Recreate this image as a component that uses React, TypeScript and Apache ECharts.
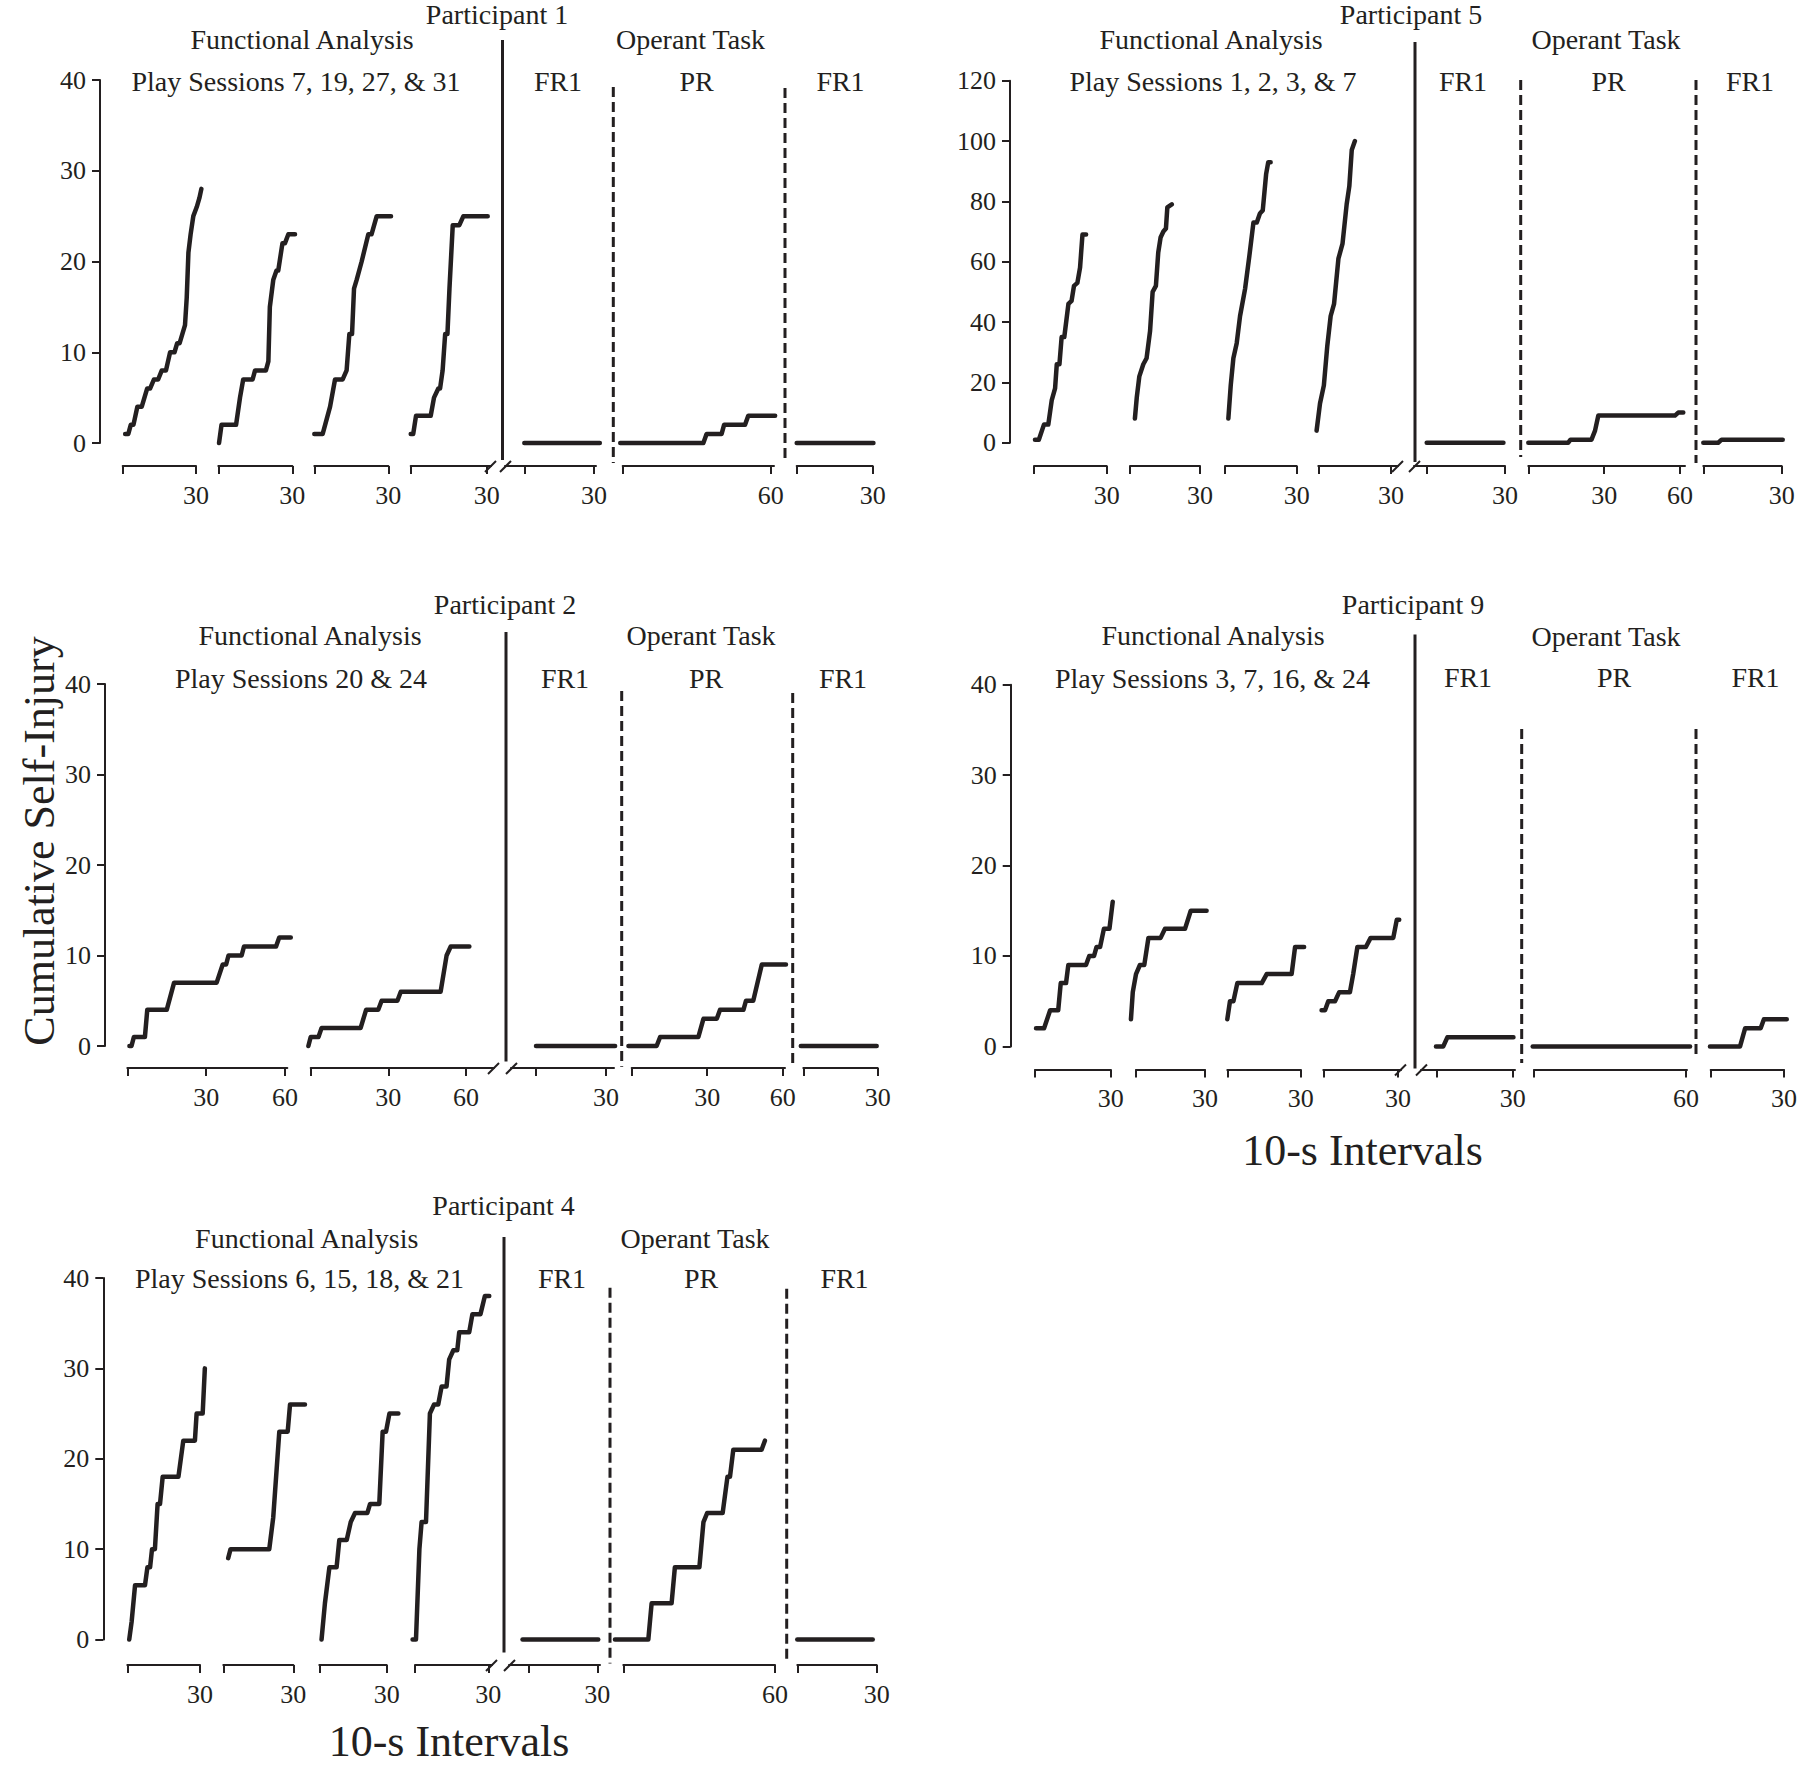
import React, { useEffect, useRef } from "react";
import * as echarts from "echarts";

// ---------------- DATA (10-s interval, cumulative self-injury) ----------------
// Participant 1
const p1Fa1 = [[1,1],[2.3,1],[3.3,2],[4.4,2],[6,4],[7.8,4],[10,6],[11.2,6],[12.8,7],[14.5,7],[16,8],[17.7,8],[19.4,10],[21.2,10],[22.3,11],[23.3,11],[25.5,13],[26.2,16],[26.9,21],[27.8,23],[28.9,25],[30.3,26],[31.4,27],[32.2,28]];
const p1Fa2 = [[0.3,0],[1.3,2],[7.2,2],[8.8,5],[10.1,7],[13.9,7],[14.9,8],[19.3,8],[20.3,9],[20.9,15],[22.3,18],[23.6,19],[24.3,19],[26,22],[27,22],[28.4,23],[31.1,23]];
const p1Fa3 = [[0,1],[3.4,1],[6.4,4],[8.4,7],[11.5,7],[13.1,8],[14.2,12],[15.3,12],[16.1,17],[17.2,18],[19.2,20],[21.9,23],[23.2,23],[25.3,25],[31.1,25]];
const p1Fa4 = [[0,1],[1,1],[2.1,3],[7.9,3],[9.2,5],[10.9,6],[11.6,6],[12.6,8],[13.6,12],[14.5,12],[15.3,17],[16.6,24],[19.2,24],[20.8,25],[30.4,25]];
const p1Fr1a = [[0,0],[32.5,0]];
const p1Pr = [[-1,0],[32.7,0],[34,1],[40.1,1],[41.1,2],[49.6,2],[50.9,3],[61.8,3]];
const p1Fr1b = [[0,0],[30.3,0]];

// Participant 5
const p5Fa1 = [[0.4,1],[2,1],[4.1,6],[5.9,6],[7.3,14],[8.7,18],[9.4,26],[10.5,26],[11.4,35],[12.5,35],[14.2,46],[15.5,47],[16.5,52],[17.9,53],[19,58],[20,69],[21.5,69]];
const p5Fa2 = [[2.1,8],[2.9,15],[4,22],[5.7,26],[7.1,28],[8.6,37],[9.7,50],[11.1,52],[12.1,63],[13.1,68],[14.3,70],[15.4,71],[16,78],[17.9,79]];
const p5Fa3 = [[1.4,8],[2.4,19],[3.5,28],[4.9,33],[6.3,42],[8.4,51],[10.2,62],[11.9,73],[13.3,73],[14.6,76],[15.8,77],[17.2,89],[18.1,93],[19.1,93]];
const p5Fa4 = [[-0.7,4],[0.7,13],[2.3,19],[3.7,32],[5.1,42],[6.5,46],[8.3,61],[10,66],[11.7,79],[12.8,85],[13.8,97],[15.1,100]];
const p5Fr1a = [[0,0],[29.4,0]];
const p5Pr = [[0,0],[15.8,0],[16.7,1],[25,1],[26.4,4],[27.7,9],[58,9],[59.3,10],[61.3,10]];
const p5Fr1b = [[0,0],[5.7,0],[7,1],[30.4,1]];

// Participant 2
const p2Fa1 = [[0.8,0],[1.6,0],[2.5,1],[6.7,1],[7.6,4],[15,4],[17.8,7],[34,7],[36.3,9],[37.6,9],[38.5,10],[43.5,10],[44.4,11],[56.6,11],[57.8,12],[62.2,12]];
const p2Fa2 = [[-0.9,0],[0,1],[3,1],[4.2,2],[19.3,2],[21.4,4],[26.1,4],[27.4,5],[33.5,5],[34.8,6],[50.2,6],[52.5,10],[54.1,11],[61.3,11]];
const p2Fr1a = [[0,0],[33.9,0]];
const p2Pr = [[-1.3,0],[9.9,0],[11.3,1],[26.5,1],[28.5,3],[33.8,3],[35.1,4],[44.4,4],[45.4,5],[48.3,5],[51.7,9],[61.3,9]];
const p2Fr1b = [[-1,0],[29.6,0]];

// Participant 9
const p9Fa1 = [[0.4,2],[3.6,2],[6,4],[9.2,4],[10.2,7],[12.3,7],[13.2,9],[20.2,9],[21.5,10],[23.4,10],[24.4,11],[25.8,11],[27.3,13],[29.5,13],[30.8,16]];
const p9Fa2 = [[-2.2,3],[-1.4,6],[0,8],[1.7,9],[3.6,9],[5.4,12],[10.7,12],[12.6,13],[21.3,13],[23.8,15],[30.7,15]];
const p9Fa3 = [[0,3],[1.1,5],[2.5,5],[4.1,7],[14.1,7],[16.1,8],[26.3,8],[27.7,11],[31.4,11]];
const p9Fa4 = [[-0.7,4],[0.7,4],[2,5],[4.7,5],[6.4,6],[10.7,6],[12,8],[13.7,11],[17.1,11],[19,12],[28.1,12],[29.5,14],[30.5,14]];
const p9Fr1a = [[-0.3,0],[2.6,0],[4.2,1],[30.3,1]];
const p9Pr = [[-0.5,0],[61.6,0]];
const p9Fr1b = [[-0.3,0],[11.7,0],[13.7,2],[19.9,2],[21.2,3],[30.3,3]];

// Participant 4
const p4Fa1 = [[0.8,0],[1.8,2],[3.2,6],[7.3,6],[8.3,8],[9.4,8],[10.2,10],[11.4,10],[12.5,15],[13.5,15],[14.6,18],[21.1,18],[23.1,22],[27.9,22],[28.6,25],[31.1,25],[32,30]];
const p4Fa2 = [[2.1,9],[3.1,10],[19.7,10],[21.4,13.5],[24,23],[27.6,23],[28.6,26],[35,26]];
const p4Fa3 = [[1,0],[2.5,4],[4.5,8],[7.7,8],[8.9,11],[12.2,11],[14,13],[15.9,14],[21.4,14],[22.6,15],[26.7,15],[28.2,23],[29.7,23],[31.2,25],[35.2,25]];
const p4Fa4 = [[-1,0],[0.4,0],[1.8,10],[2.7,13],[4.5,13],[6.1,25],[7.8,26],[9.5,26],[10.9,28],[12.9,28],[14,31],[15.7,32],[17.3,32],[18.1,34],[22.2,34],[23.5,36],[26.8,36],[28.6,38],[30.4,38]];
const p4Fr1a = [[-2.5,0],[30.4,0]];
const p4Pr = [[-3.3,0],[9.9,0],[11.2,4],[19.1,4],[20.4,8],[30.1,8],[31.7,13],[33.2,14],[39.3,14],[41.2,18],[42.2,18],[43.5,21],[54.7,21],[56,22]];
const p4Fr1b = [[0,0],[28.5,0]];

// Tick labels
const ticks30 = [0, 30];
const labels30 = [30];
const ticks60 = [0, 60];
const labels60 = [60];
const ticks3060 = [0, 30, 60];
const labels3060 = [30, 60];

// Titles
const yTitle = "Cumulative Self-Injury";
const xTitle = "10-s Intervals";
const faTitle = "Functional Analysis";
const opTitle = "Operant Task";
const phaseNames = ["FR1", "PR", "FR1"];

// ---------------- LAYOUT ----------------
const INK = "#231f20";
const SERIF = "'Liberation Serif', 'Times New Roman', serif";
const TITLE_SIZE = 28;
const TICK_SIZE = 26;
const BIG_SIZE = 44;

type G = { t0: number; t1: number; v1: number; ls?: number; le?: number; ticks: number[]; labels: number[]; data: number[][]; brk?: "end" | "start" };
type P = {
  name: string; play: string;
  yAxisX: number; yTop: number; yBottom: number; yMax: number; yInt: number; xAxisY: number;
  titleXY: number[]; faXY: number[]; playXY: number[]; opXY: number[]; phaseX: number[]; phaseY: number;
  solid: number[]; dashed: number[][]; grids: G[];
};

const panels: P[] = [
  {
    name: "Participant 1", play: "Play Sessions 7, 19, 27, & 31",
    yAxisX: 100, yTop: 80, yBottom: 443, yMax: 40, yInt: 10, xAxisY: 466,
    titleXY: [497, 14.5], faXY: [302, 39], playXY: [296, 81], opXY: [690.5, 39], phaseX: [558, 696.5, 840.5], phaseY: 81,
    solid: [502.5, 40, 460], dashed: [[613.3, 87, 463], [785, 88, 463]],
    grids: [
      { t0: 122.7, t1: 196, v1: 30, ticks: ticks30, labels: labels30, data: p1Fa1 },
      { t0: 218.3, t1: 292.3, v1: 30, ticks: ticks30, labels: labels30, data: p1Fa2 },
      { t0: 314.3, t1: 388.3, v1: 30, ticks: ticks30, labels: labels30, data: p1Fa3 },
      { t0: 410.7, t1: 486.7, v1: 30, le: 491, ticks: ticks30, labels: labels30, data: p1Fa4, brk: "end" },
      { t0: 524.3, t1: 594, v1: 30, ls: 505, le: 596, ticks: ticks30, labels: labels30, data: p1Fr1a, brk: "start" },
      { t0: 622.7, t1: 770.7, v1: 60, le: 774, ticks: ticks60, labels: labels60, data: p1Pr },
      { t0: 796.7, t1: 872.7, v1: 30, ticks: ticks30, labels: labels30, data: p1Fr1b },
    ],
  },
  {
    name: "Participant 5", play: "Play Sessions 1, 2, 3, & 7",
    yAxisX: 1010, yTop: 80.7, yBottom: 442.7, yMax: 120, yInt: 20, xAxisY: 466,
    titleXY: [1411, 14.5], faXY: [1211, 39], playXY: [1213, 81], opXY: [1606, 39], phaseX: [1463, 1608.5, 1750], phaseY: 81,
    solid: [1415, 42, 462], dashed: [[1520.7, 80, 457], [1696, 80, 463]],
    grids: [
      { t0: 1034, t1: 1106.7, v1: 30, ticks: ticks30, labels: labels30, data: p5Fa1 },
      { t0: 1130, t1: 1200, v1: 30, ticks: ticks30, labels: labels30, data: p5Fa2 },
      { t0: 1225, t1: 1296.7, v1: 30, ticks: ticks30, labels: labels30, data: p5Fa3 },
      { t0: 1318.3, t1: 1391, v1: 30, le: 1398, ticks: ticks30, labels: labels30, data: p5Fa4, brk: "end" },
      { t0: 1426.7, t1: 1505, v1: 30, ls: 1414, ticks: ticks30, labels: labels30, data: p5Fr1a, brk: "start" },
      { t0: 1528.3, t1: 1680, v1: 60, le: 1685, ticks: ticks3060, labels: labels3060, data: p5Pr },
      { t0: 1703.3, t1: 1781.7, v1: 30, ticks: ticks30, labels: labels30, data: p5Fr1b },
    ],
  },
  {
    name: "Participant 2", play: "Play Sessions 20 & 24",
    yAxisX: 105, yTop: 684, yBottom: 1046, yMax: 40, yInt: 10, xAxisY: 1068,
    titleXY: [505, 604], faXY: [310, 635.6], playXY: [301, 678.6], opXY: [701, 635.6], phaseX: [565, 706, 843], phaseY: 678.6,
    solid: [506, 632, 1061.6], dashed: [[621.7, 691, 1066.7], [792.7, 693, 1068]],
    grids: [
      { t0: 127.3, t1: 285, v1: 60, le: 287.3, ticks: ticks3060, labels: labels3060, data: p2Fa1 },
      { t0: 310.7, t1: 466, v1: 60, le: 494, ticks: ticks3060, labels: labels3060, data: p2Fa2, brk: "end" },
      { t0: 536, t1: 606, v1: 30, ls: 511, le: 614, ticks: ticks30, labels: labels30, data: p2Fr1a, brk: "start" },
      { t0: 631.7, t1: 782.7, v1: 60, le: 785, ticks: ticks3060, labels: labels3060, data: p2Pr },
      { t0: 803.3, t1: 877.7, v1: 30, ticks: ticks30, labels: labels30, data: p2Fr1b },
    ],
  },
  {
    name: "Participant 9", play: "Play Sessions 3, 7, 16, & 24",
    yAxisX: 1010.7, yTop: 684.7, yBottom: 1046.4, yMax: 40, yInt: 10, xAxisY: 1069.5,
    titleXY: [1413, 604], faXY: [1213, 635.6], playXY: [1212.5, 678.6], opXY: [1606, 636.4], phaseX: [1468, 1614, 1755.5], phaseY: 677.5,
    solid: [1415, 634.6, 1068.6], dashed: [[1521.7, 729, 1063], [1696, 729, 1056]],
    grids: [
      { t0: 1035, t1: 1110.7, v1: 30, ticks: ticks30, labels: labels30, data: p9Fa1 },
      { t0: 1136, t1: 1205, v1: 30, ticks: ticks30, labels: labels30, data: p9Fa2 },
      { t0: 1227.3, t1: 1300.7, v1: 30, ticks: ticks30, labels: labels30, data: p9Fa3 },
      { t0: 1323.3, t1: 1398, v1: 30, le: 1401, ticks: ticks30, labels: labels30, data: p9Fa4, brk: "end" },
      { t0: 1436.7, t1: 1512.7, v1: 30, ls: 1421, le: 1515, ticks: ticks30, labels: labels30, data: p9Fr1a, brk: "start" },
      { t0: 1534, t1: 1686, v1: 60, le: 1687, ticks: ticks60, labels: labels60, data: p9Pr },
      { t0: 1710.7, t1: 1786, v1: 30, ticks: ticks30, labels: labels30, data: p9Fr1b },
    ],
  },
  {
    name: "Participant 4", play: "Play Sessions 6, 15, 18, & 21",
    yAxisX: 103.3, yTop: 1278, yBottom: 1639.5, yMax: 40, yInt: 10, xAxisY: 1665,
    titleXY: [503.5, 1205], faXY: [306.7, 1238], playXY: [299.5, 1278], opXY: [695, 1238], phaseX: [562, 701, 844.5], phaseY: 1278,
    solid: [504, 1237, 1652.6], dashed: [[610, 1287.7, 1663.6], [786.7, 1288.8, 1663.6]],
    grids: [
      { t0: 127.3, t1: 200, v1: 30, ticks: ticks30, labels: labels30, data: p4Fa1 },
      { t0: 223.3, t1: 293.3, v1: 30, ticks: ticks30, labels: labels30, data: p4Fa2 },
      { t0: 319.3, t1: 386.7, v1: 30, ticks: ticks30, labels: labels30, data: p4Fa3 },
      { t0: 415, t1: 488.3, v1: 30, le: 492, ticks: ticks30, labels: labels30, data: p4Fa4, brk: "end" },
      { t0: 528.3, t1: 597.3, v1: 30, ls: 509, le: 600, ticks: ticks30, labels: labels30, data: p4Fr1a, brk: "start" },
      { t0: 623.3, t1: 775, v1: 60, ticks: ticks60, labels: labels60, data: p4Pr },
      { t0: 797.3, t1: 876.7, v1: 30, ticks: ticks30, labels: labels30, data: p4Fr1b },
    ],
  },
];

const bigLabels = [
  { text: xTitle, x: 1362.5, y: 1150, rot: 0 },
  { text: xTitle, x: 449, y: 1741, rot: 0 },
  { text: yTitle, x: 39, y: 841, rot: Math.PI / 2 },
];

function txt(text: string, x: number, y: number, size: number, rotation = 0) {
  return {
    type: "text",
    x, y, rotation,
    silent: true,
    style: {
      text, fill: INK, fontSize: size, fontFamily: SERIF,
      align: "center", verticalAlign: "middle",
      textAlign: "center", textVerticalAlign: "middle",
    },
  };
}
function seg(x1: number, y1: number, x2: number, y2: number, w: number, dash?: number[]) {
  return {
    type: "line", silent: true,
    shape: { x1, y1, x2, y2 },
    style: { stroke: INK, lineWidth: w, lineDash: dash },
  };
}

const axisLineStyle = { color: INK, width: 2 };

function buildOption() {
  const grid: any[] = [], xAxis: any[] = [], yAxis: any[] = [], series: any[] = [], graphic: any[] = [];
  panels.forEach((p) => {
    p.grids.forEach((g, i) => {
      const ls = g.ls ?? g.t0;
      const le = g.le ?? g.t1;
      const ppu = (g.t1 - g.t0) / g.v1;
      const aMin = g.ls === undefined ? 0 : (ls - g.t0) / ppu;
      const aMax = g.le === undefined ? g.v1 : (le - g.t0) / ppu;
      const h = p.yBottom - p.yTop;

      // axis-only grid
      const ai = grid.length;
      grid.push({ left: ls, top: p.yTop, width: le - ls, height: h, containLabel: false });
      xAxis.push({
        type: "value", gridIndex: ai, min: aMin, max: aMax,
        offset: p.xAxisY - p.yBottom,
        axisLine: { show: true, onZero: false, lineStyle: axisLineStyle },
        axisTick: { show: true, customValues: g.ticks, length: 8, inside: false, lineStyle: axisLineStyle },
        axisLabel: { show: true, customValues: g.labels, margin: 16, color: INK, fontSize: TICK_SIZE, fontFamily: SERIF, showMinLabel: true, showMaxLabel: true },
        splitLine: { show: false },
      });
      yAxis.push({
        type: "value", gridIndex: ai, min: 0, max: p.yMax, interval: p.yInt,
        show: i === 0,
        offset: i === 0 ? ls - p.yAxisX : 0,
        axisLine: { show: true, onZero: false, lineStyle: axisLineStyle },
        axisTick: { show: true, length: 8, lineStyle: axisLineStyle },
        axisLabel: { margin: 14, color: INK, fontSize: TICK_SIZE, fontFamily: SERIF },
        splitLine: { show: false },
      });

      // data grid, same scale, wide enough for every point
      const xs = g.data.map((d) => d[0]);
      const lo = Math.min(aMin, ...xs) - 2;
      const hi = Math.max(aMax, ...xs) + 2;
      const di = grid.length;
      grid.push({ left: g.t0 + lo * ppu, top: p.yTop, width: (hi - lo) * ppu, height: h, containLabel: false });
      xAxis.push({ type: "value", gridIndex: di, min: lo, max: hi, show: false, splitLine: { show: false } });
      yAxis.push({ type: "value", gridIndex: di, min: 0, max: p.yMax, show: false, splitLine: { show: false } });
      series.push({
        type: "line", xAxisIndex: di, yAxisIndex: di, data: g.data,
        showSymbol: false, symbol: "none", clip: false, silent: true,
        lineStyle: { color: INK, width: 4.5, cap: "round", join: "round" },
      });

      if (g.brk === "end") {
        graphic.push(seg(le - 6, p.xAxisY + 6, le + 5, p.xAxisY - 5, 2));
      } else if (g.brk === "start") {
        graphic.push(seg(ls - 5, p.xAxisY + 6, ls + 6, p.xAxisY - 5, 2));
      }
    });
    graphic.push(txt(p.name, p.titleXY[0], p.titleXY[1], TITLE_SIZE));
    graphic.push(txt(faTitle, p.faXY[0], p.faXY[1], TITLE_SIZE));
    graphic.push(txt(p.play, p.playXY[0], p.playXY[1], TITLE_SIZE));
    graphic.push(txt(opTitle, p.opXY[0], p.opXY[1], TITLE_SIZE));
    p.phaseX.forEach((x, k) => graphic.push(txt(phaseNames[k], x, p.phaseY, TITLE_SIZE)));
    graphic.push(seg(p.solid[0], p.solid[1], p.solid[0], p.solid[2], 3));
    p.dashed.forEach((d) => graphic.push(seg(d[0], d[1], d[0], d[2], 3, [10, 5])));
  });
  bigLabels.forEach((b) => graphic.push(txt(b.text, b.x, b.y, BIG_SIZE, b.rot)));

  return {
    animation: false,
    backgroundColor: "#ffffff",
    textStyle: { fontFamily: SERIF, color: INK },
    grid, xAxis, yAxis, series, graphic,
  };
}

export default function App() {
  const ref = useRef<HTMLDivElement>(null);
  useEffect(() => {
    if (!ref.current) return;
    const chart = echarts.init(ref.current, undefined, { renderer: "svg" });
    chart.setOption(buildOption() as any);
    return () => chart.dispose();
  }, []);
  return (
    <div
      ref={ref}
      style={{ position: "absolute", left: 0, top: 0, width: 1800, height: 1768, background: "#fff" }}
    />
  );
}
